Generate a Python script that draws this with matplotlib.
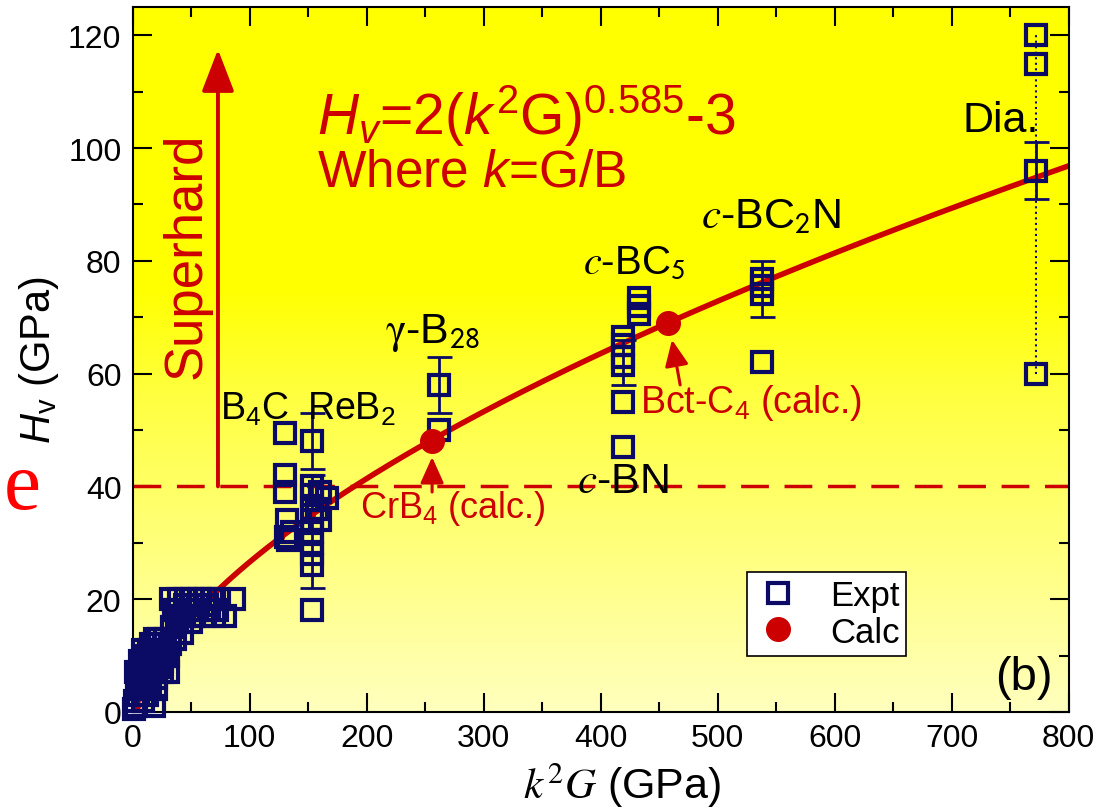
import numpy as np
import matplotlib
matplotlib.use('Agg')
import matplotlib.pyplot as plt
from matplotlib.colors import LinearSegmentedColormap

plt.rcParams['font.family'] = ['Liberation Sans', 'DejaVu Sans']
plt.rcParams['mathtext.fontset'] = 'custom'
plt.rcParams['mathtext.rm'] = 'Liberation Sans'
plt.rcParams['mathtext.it'] = 'Liberation Sans:italic'
plt.rcParams['mathtext.bf'] = 'Liberation Sans:bold'

navy = '#0b0b66'
red = '#cc0000'

# experimental points (k^2 G, Hv)
expt_x = [1, 2, 3, 4, 5, 6, 7, 8, 9, 10, 11, 12, 13, 14, 15, 16, 18, 19, 20, 22,
          23, 25, 27, 28, 30, 32, 33, 35, 36, 38, 40, 42, 44, 46, 48, 50, 52, 55,
          58, 60, 62, 65, 68, 70, 74, 79, 87, 20, 25, 28, 12, 18,
          3, 6, 9, 15, 17, 22, 26, 30, 34, 37, 41, 45, 52, 56, 64, 72,
          130, 130, 130, 132, 131, 133, 136,
          153, 153, 153, 153, 153, 153, 153, 153, 153, 153, 160, 166, 160, 158,
          262, 262,
          419, 419, 419, 419, 419, 419, 433, 433, 433,
          538, 538, 538, 538,
          772, 772, 772, 772]
expt_y = [0.5, 2, 1, 4, 3, 6, 5, 8, 2, 7, 10, 9, 5, 11, 8, 12, 10, 13, 6, 11,
          13, 9, 12, 13, 10, 12, 20, 18, 13, 16, 20, 14, 17, 20, 18, 16, 20, 18,
          20, 17, 20, 18, 20, 17, 20, 17, 20, 4, 7, 10, 3, 1,
          7, 9, 11, 4, 7, 8, 11, 7, 15, 18, 17, 19, 17, 19, 19, 18,
          49.5, 42, 39, 34, 31, 30.5, 32,
          48, 40, 38.5, 36, 34, 32, 30, 28, 26, 18, 39, 38, 34, 36,
          58, 50,
          66.5, 65, 63, 61.5, 55, 47, 73.5, 72, 70.5,
          76.8, 75.5, 74.2, 62,
          120, 115, 96, 60]

# error bars
err_x = [153, 153, 262, 419, 538, 772]
err_y = [48, 32, 58, 62, 75, 96]
err_d = [5, 10, 5, 4, 5, 5]

# calculated points
calc_x = [256, 458]
calc_y = [48, 69]
calc_small_x = [4, 13, 40, 67, 127, 153]
calc_small_y = [1, 5, 14.4, 21, 31, 35]

# diamond range
dia_x = [772, 772]
dia_y = [60, 120]

# fit Hv = a (k^2 G)^n + c
fit_a, fit_n, fit_c = 2.0, 0.585, -3.0
superhard = 40

fig = plt.figure(figsize=(11, 8.12), dpi=100)
ax = fig.add_axes([0.1205, 0.122, 0.851, 0.868])

# background gradient
grad = np.linspace(0, 1, 256).reshape(-1, 1)
cmap = LinearSegmentedColormap.from_list('bg', [(0, '#ffffbe'), (0.45, '#ffff40'), (0.6, '#ffff00'), (1, '#ffff00')])
ax.imshow(grad, extent=[0, 800, 0, 125], origin='lower', aspect='auto', cmap=cmap, zorder=0)

xs = np.linspace(0, 800, 400)
ax.plot(xs, fit_a * xs ** fit_n + fit_c, color=red, lw=4, zorder=2)
ax.axhline(superhard, color=red, lw=2.5, dashes=(8, 4.5), zorder=2)

ax.plot(dia_x, dia_y, color=navy, lw=1.5, ls=':', zorder=3)
ax.errorbar(err_x, err_y, yerr=err_d, fmt='none', ecolor=navy, elinewidth=2, capsize=9, capthick=2, zorder=3)
ax.plot(calc_small_x, calc_small_y, 'o', color=red, ms=4, zorder=3, clip_on=False)
ax.plot(expt_x, expt_y, 's', mfc='none', mec=navy, ms=15, mew=3, zorder=4, clip_on=False, label='Expt')
ax.plot(calc_x, calc_y, 'o', color=red, ms=17, zorder=5, label='Calc')

# superhard arrow
ax.annotate('', xy=(73, 117.5), xytext=(73, superhard),
            arrowprops=dict(arrowstyle='-|>,head_length=1.3,head_width=0.5', color=red, lw=2.8,
                            mutation_scale=20, shrinkA=0, shrinkB=0), zorder=3)
ax.text(46, 81, 'Superhard', color=red, fontsize=38, rotation=90, ha='center', va='center')

ax.annotate('', xy=(256, 45.2), xytext=(256, 39),
            arrowprops=dict(arrowstyle='-|>,head_length=1.0,head_width=0.45', color=red, lw=2.2,
                            mutation_scale=16, shrinkA=0, shrinkB=0), zorder=3)
ax.annotate('', xy=(461, 66), xytext=(468, 58),
            arrowprops=dict(arrowstyle='-|>,head_length=1.0,head_width=0.45', color=red, lw=2.2,
                            mutation_scale=16, shrinkA=0, shrinkB=0), zorder=3)

ax.text(158, 102.5, r'$H_v$=2($k^2$G)$^{0.585}$-3', color=red, fontsize=41, va='baseline')
ax.text(158, 93.3, r'Where $k$=G/B', color=red, fontsize=37, va='baseline')

ax.text(194, 34.6, r'CrB$_4$ (calc.)', color=red, fontsize=26, va='baseline')
ax.text(434, 53.2, r'Bct-C$_4$ (calc.)', color=red, fontsize=27, va='baseline')

ax.text(75, 52, r'B$_4$C', fontsize=27, va='baseline')
ax.text(149, 52, r'ReB$_2$', fontsize=27, va='baseline')
ax.text(216, 65.6, r'$\mathrm{\gamma}$-B$_{\mathsf{28}}$', fontsize=31, va='baseline', math_fontfamily='stix')
ax.text(385, 78, r'$c$-BC$_{\mathsf{5}}$', fontsize=29, va='baseline', math_fontfamily='stix')
ax.text(486, 86, r'$c$-BC$_{\mathsf{2}}$N', fontsize=31, va='baseline', math_fontfamily='stix')
ax.text(380, 39, r'$c$-BN', fontsize=31, va='baseline', math_fontfamily='stix')
ax.text(709, 103, 'Dia.', fontsize=31, va='baseline')
ax.text(786, 4, '(b)', fontsize=34, ha='right', va='baseline')

leg = ax.legend(loc='lower left', bbox_to_anchor=(0.656, 0.08), fontsize=25, frameon=True,
                fancybox=False, edgecolor='black', framealpha=1, handletextpad=0.8,
                borderpad=0.2, labelspacing=0.1, handlelength=1.4, markerscale=1.0,
                borderaxespad=0)
leg.get_frame().set_linewidth(1.2)

ax.set_xlim(0, 800)
ax.set_ylim(0, 125)
ax.set_xticks(range(0, 801, 100))
ax.set_xticks(range(50, 800, 100), minor=True)
ax.set_yticks(range(0, 121, 20))
ax.set_yticks(range(10, 125, 20), minor=True)
ax.tick_params(which='both', direction='in', top=True, right=True, width=1.5, labelsize=23, pad=8)
ax.tick_params(which='major', length=14)
ax.tick_params(which='minor', length=7)
for s in ax.spines.values():
    s.set_linewidth(1.5)

ax.set_xlabel(r'$k^2G$ (GPa)', fontsize=31, math_fontfamily='stix')
ax.xaxis.set_label_coords(0.523, -0.068)
ax.set_ylabel(r'$H_{\rm v}$ (GPa)', fontsize=30)
ax.yaxis.set_label_coords(-0.076, 0.50)

fig.text(0.003, 0.397, 'e', color='red', fontsize=60, family='Liberation Serif', ha='left', va='center')

fig.savefig('out.png', dpi=100)
